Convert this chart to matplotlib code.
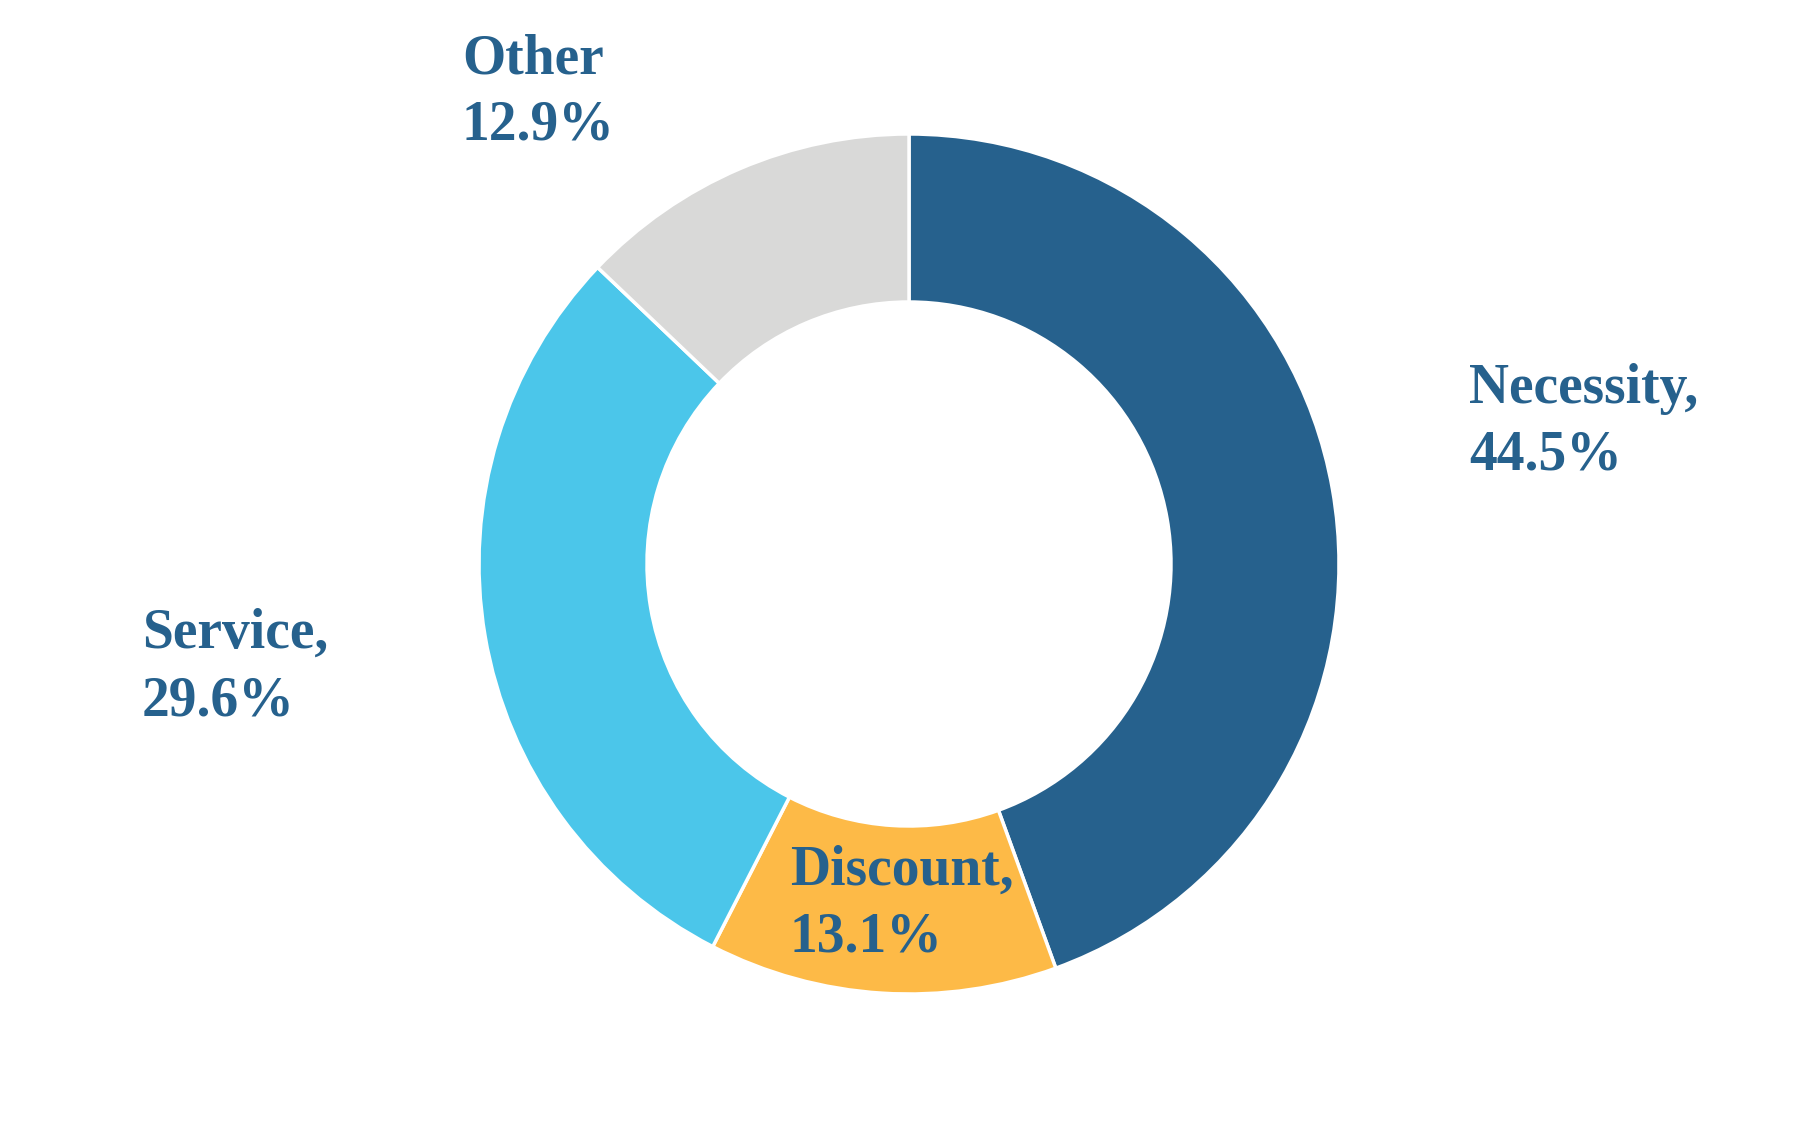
import matplotlib
matplotlib.use("Agg")
import matplotlib.pyplot as plt

categories = ["Necessity", "Discount", "Service", "Other"]
shares = [44.5, 13.1, 29.6, 12.9]
label_text = ["Necessity,", "Discount,", "Service,", "Other"]
colors = ["#26618D", "#FDBA47", "#4BC6EA", "#D9D9D8"]
text_color = "#26618D"

W, H = 1818, 1128
fig = plt.figure(figsize=(W / 100, H / 100), dpi=100)
ax = fig.add_axes([0, 0, 1, 1])

cx, cy, R = 909, H - 564, 430
ax.pie(shares, colors=colors, startangle=90, counterclock=False,
       center=(cx, cy), radius=R,
       wedgeprops=dict(width=R - 262, edgecolor="white", linewidth=2.5))
ax.set_xlim(0, W)
ax.set_ylim(0, H)
ax.set_aspect("equal")
ax.axis("off")

# label anchor positions (left x, first-line baseline from top)
label_pos = [(1469, 403), (790, 885), (142, 648), (462, 73)]
fs = 40
for name, val, (x, yb) in zip(label_text, shares, label_pos):
    ax.text(x, H - yb, name, ha="left", va="baseline", fontsize=fs,
            fontweight="bold", family="Liberation Serif", color=text_color)
    ax.text(x, H - yb - 67, f"{val:.1f}%", ha="left", va="baseline", fontsize=fs,
            fontweight="bold", family="Liberation Serif", color=text_color)

fig.savefig("out.png", dpi=100, facecolor="white")
